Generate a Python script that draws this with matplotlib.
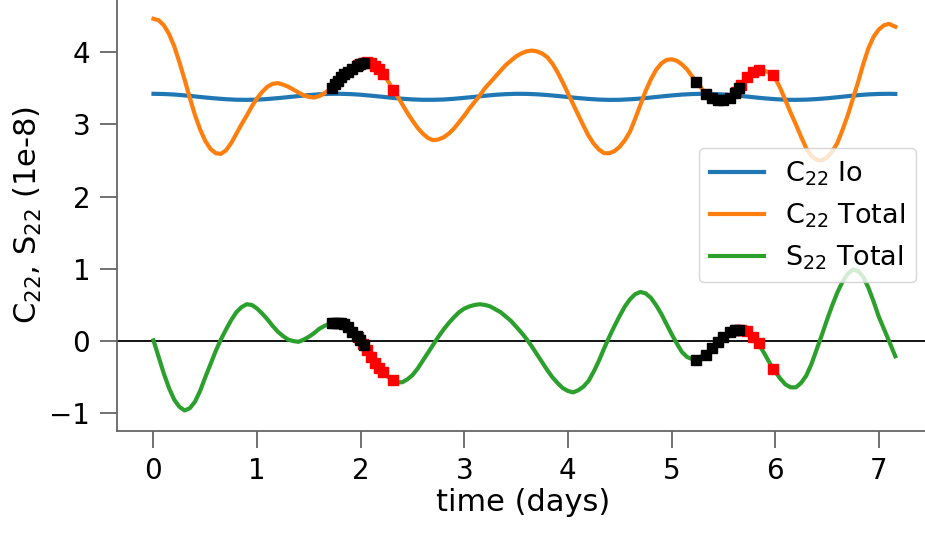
import matplotlib
matplotlib.use("Agg")
import matplotlib.pyplot as plt

# time grids (days)
io_days = [0.0, 0.1, 0.2, 0.3, 0.4, 0.5, 0.6, 0.7, 0.8, 0.9,
           1.0, 1.1, 1.2, 1.3, 1.4, 1.5, 1.6, 1.7, 1.8, 1.9,
           2.0, 2.1, 2.2, 2.3, 2.4, 2.5, 2.6, 2.7, 2.8, 2.9,
           3.0, 3.1, 3.2, 3.3, 3.4, 3.5, 3.6, 3.7, 3.8, 3.9,
           4.0, 4.1, 4.2, 4.3, 4.4, 4.5, 4.6, 4.7, 4.8, 4.9,
           5.0, 5.1, 5.2, 5.3, 5.4, 5.5, 5.6, 5.7, 5.8, 5.9,
           6.0, 6.1, 6.2, 6.3, 6.4, 6.5, 6.6, 6.7, 6.8, 6.9,
           7.0, 7.1, 7.16]

c22_io = [3.422, 3.419, 3.412, 3.400, 3.386, 3.371, 3.358, 3.347, 3.340, 3.338,
          3.341, 3.350, 3.362, 3.376, 3.391, 3.404, 3.415, 3.421, 3.422, 3.418,
          3.409, 3.396, 3.382, 3.367, 3.354, 3.344, 3.339, 3.339, 3.343, 3.353,
          3.366, 3.380, 3.395, 3.408, 3.417, 3.422, 3.421, 3.415, 3.405, 3.392,
          3.377, 3.363, 3.351, 3.342, 3.338, 3.339, 3.346, 3.356, 3.370, 3.385,
          3.399, 3.411, 3.419, 3.422, 3.420, 3.413, 3.402, 3.388, 3.373, 3.359,
          3.348, 3.340, 3.338, 3.341, 3.349, 3.360, 3.374, 3.389, 3.403, 3.414,
          3.420, 3.422, 3.420]

days = [0.00, 0.05, 0.10, 0.15, 0.20, 0.25, 0.30, 0.35, 0.40, 0.45,
        0.50, 0.55, 0.60, 0.65, 0.70, 0.75, 0.80, 0.85, 0.90, 0.95,
        1.00, 1.05, 1.10, 1.15, 1.20, 1.25, 1.30, 1.35, 1.40, 1.45,
        1.50, 1.55, 1.60, 1.65, 1.70, 1.75, 1.80, 1.85, 1.90, 1.95,
        2.00, 2.05, 2.10, 2.15, 2.20, 2.25, 2.30, 2.35, 2.40, 2.45,
        2.50, 2.55, 2.60, 2.65, 2.70, 2.75, 2.80, 2.85, 2.90, 2.95,
        3.00, 3.05, 3.10, 3.15, 3.20, 3.25, 3.30, 3.35, 3.40, 3.45,
        3.50, 3.55, 3.60, 3.65, 3.70, 3.75, 3.80, 3.85, 3.90, 3.95,
        4.00, 4.05, 4.10, 4.15, 4.20, 4.25, 4.30, 4.35, 4.40, 4.45,
        4.50, 4.55, 4.60, 4.65, 4.70, 4.75, 4.80, 4.85, 4.90, 4.95,
        5.00, 5.05, 5.10, 5.15, 5.20, 5.25, 5.30, 5.35, 5.40, 5.45,
        5.50, 5.55, 5.60, 5.65, 5.70, 5.75, 5.80, 5.85, 5.90, 5.95,
        6.00, 6.05, 6.10, 6.15, 6.20, 6.25, 6.30, 6.35, 6.40, 6.45,
        6.50, 6.55, 6.60, 6.65, 6.70, 6.75, 6.80, 6.85, 6.90, 6.95,
        7.00, 7.05, 7.10, 7.16]

c22_total = [4.46, 4.44, 4.37, 4.25, 4.08, 3.86, 3.62, 3.37, 3.13, 2.93,
             2.77, 2.66, 2.60, 2.59, 2.64, 2.74, 2.87, 3.00, 3.12, 3.25,
             3.36, 3.45, 3.52, 3.56, 3.57, 3.55, 3.52, 3.48, 3.44, 3.40,
             3.38, 3.37, 3.39, 3.43, 3.48, 3.55, 3.62, 3.69, 3.75, 3.80,
             3.84, 3.86, 3.85, 3.81, 3.73, 3.63, 3.51, 3.40, 3.28, 3.16,
             3.05, 2.95, 2.87, 2.81, 2.78, 2.79, 2.82, 2.87, 2.94, 3.03,
             3.12, 3.22, 3.31, 3.40, 3.50, 3.58, 3.66, 3.74, 3.82, 3.88,
             3.94, 3.98, 4.01, 4.02, 4.01, 3.98, 3.93, 3.84, 3.72, 3.58,
             3.43, 3.28, 3.13, 2.98, 2.84, 2.73, 2.65, 2.60, 2.60, 2.63,
             2.69, 2.78, 2.90, 3.08, 3.27, 3.46, 3.62, 3.75, 3.84, 3.89,
             3.90, 3.88, 3.83, 3.76, 3.66, 3.57, 3.48, 3.41, 3.36, 3.34,
             3.34, 3.37, 3.42, 3.50, 3.58, 3.66, 3.72, 3.75, 3.74, 3.71,
             3.64, 3.50, 3.33, 3.16, 3.00, 2.83, 2.67, 2.56, 2.51, 2.50,
             2.54, 2.62, 2.74, 2.92, 3.12, 3.35, 3.58, 3.83, 4.05, 4.21,
             4.31, 4.37, 4.39, 4.35]

s22_total = [0.01, -0.22, -0.45, -0.65, -0.81, -0.91, -0.96, -0.93, -0.84, -0.69,
             -0.50, -0.32, -0.14, 0.02, 0.16, 0.29, 0.40, 0.47, 0.51, 0.50,
             0.45, 0.38, 0.30, 0.21, 0.13, 0.07, 0.02, 0.00, -0.01, 0.02,
             0.06, 0.11, 0.17, 0.21, 0.24, 0.25, 0.25, 0.21, 0.16, 0.09,
             0.00, -0.11, -0.23, -0.33, -0.41, -0.48, -0.53, -0.57, -0.57, -0.53,
             -0.47, -0.38, -0.27, -0.16, -0.05, 0.06, 0.16, 0.25, 0.33, 0.40,
             0.45, 0.48, 0.50, 0.51, 0.50, 0.48, 0.44, 0.40, 0.34, 0.28,
             0.20, 0.12, 0.03, -0.07, -0.18, -0.29, -0.40, -0.50, -0.58, -0.65,
             -0.69, -0.71, -0.68, -0.63, -0.55, -0.42, -0.27, -0.10, 0.06, 0.21,
             0.35, 0.48, 0.58, 0.65, 0.68, 0.66, 0.60, 0.50, 0.38, 0.24,
             0.10, -0.03, -0.15, -0.22, -0.25, -0.24, -0.20, -0.16, -0.11, -0.03,
             0.04, 0.10, 0.14, 0.16, 0.15, 0.10, 0.03, -0.06, -0.18, -0.31,
             -0.42, -0.52, -0.60, -0.64, -0.64, -0.58, -0.48, -0.32, -0.12, 0.08,
             0.29, 0.49, 0.67, 0.82, 0.93, 0.99, 0.97, 0.89, 0.74, 0.55,
             0.34, 0.17, 0.00, -0.21]

# marked epochs (red under black)
red_days = [1.97, 2.02, 2.06, 2.10, 2.14, 2.18, 2.22, 2.31,
            5.62, 5.67, 5.73, 5.79, 5.84, 5.98]
red_c22 = [3.82, 3.85, 3.86, 3.85, 3.81, 3.76, 3.69, 3.48,
           3.45, 3.55, 3.65, 3.72, 3.75, 3.68]
red_s22 = [0.05, -0.04, -0.13, -0.22, -0.31, -0.37, -0.43, -0.54,
           0.15, 0.16, 0.14, 0.06, -0.03, -0.39]

black_days = [1.72, 1.75, 1.78, 1.81, 1.84, 1.88, 1.92, 1.96, 1.99, 2.03,
              5.24, 5.33, 5.39, 5.45, 5.50, 5.56, 5.61, 5.65]
black_c22 = [3.50, 3.56, 3.60, 3.65, 3.69, 3.73, 3.77, 3.81, 3.83, 3.85,
             3.59, 3.42, 3.36, 3.33, 3.33, 3.36, 3.43, 3.50]
black_s22 = [0.245, 0.25, 0.25, 0.245, 0.23, 0.19, 0.13, 0.07, 0.02, -0.05,
             -0.26, -0.19, -0.10, -0.01, 0.06, 0.12, 0.15, 0.16]


def main():
  fig = plt.figure(figsize=(9.25, 5.33), dpi=100)
  ax = fig.add_axes([116.7 / 925, 102.3 / 533, 813.3 / 925, 430.7 / 533])

  ax.axhline(0, color='k', lw=1.3, zorder=1)
  ax.plot(io_days, c22_io, color='#1f77b4', lw=3, label='C$_{22}$ Io')
  ax.plot(days, c22_total, color='#ff7f0e', lw=3, label='C$_{22}$ Total')
  ax.plot(days, s22_total, color='#2ca02c', lw=3, label='S$_{22}$ Total')

  ax.plot(red_days, red_c22, 's', color='r', ms=7.5)
  ax.plot(red_days, red_s22, 's', color='r', ms=7.5)
  ax.plot(black_days, black_c22, 's', color='k', ms=7.5)
  ax.plot(black_days, black_s22, 's', color='k', ms=7.5)

  ax.set_xlim(-0.355, 7.495)
  ax.set_ylim(-1.24, 4.72)
  ax.set_xticks(range(0, 8))
  ax.set_yticks(range(-1, 5))

  for side in ['top', 'right']:
    ax.spines[side].set_visible(False)
  for side in ['left', 'bottom']:
    ax.spines[side].set_color('0.4')
    ax.spines[side].set_linewidth(1.3)
  ax.tick_params(length=12, width=1.3, color='0.4', labelsize=20, pad=7)

  ax.set_xlabel('time (days)', fontsize=22, labelpad=2)
  ax.set_ylabel('C$_{22}$, S$_{22}$ (1e-8)', fontsize=22)

  ax.legend(loc='center right', fontsize=19.5, framealpha=0.8)

  fig.savefig('out.png', dpi=100)


if __name__ == "__main__":
  main()
